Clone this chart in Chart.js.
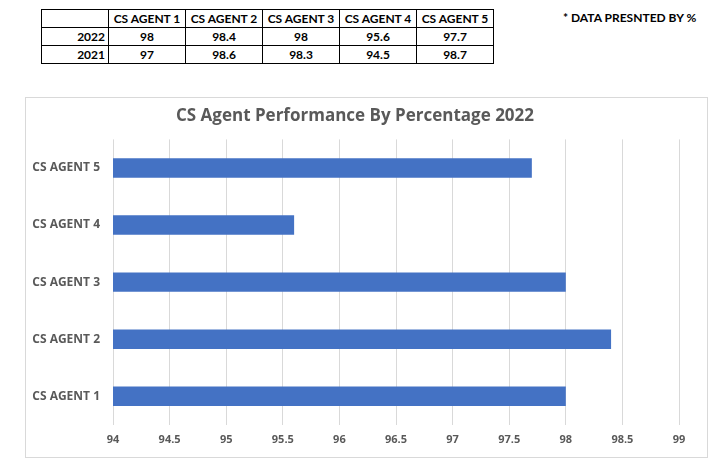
<!DOCTYPE html>
<html>
<head>
<meta charset="utf-8">
<script src="https://cdn.jsdelivr.net/npm/chart.js@4"></script>
<style>
  body { margin: 0; background: #fff; font-family: Lato, "Open Sans", sans-serif; }
  #dataTable {
    position: absolute; left: 41px; top: 9px;
    border-collapse: collapse; font-weight: bold; font-size: 12px; color: #000;
  }
  #dataTable td { border: 1px solid #000; height: 17px; padding: 0 3px; text-align: center; white-space: nowrap; }
  #dataTable td.year { text-align: right; width: 60px; }
  #dataTable td.agent { width: 70px; }
  #note { position: absolute; left: 563px; top: 10px; font-size: 12px; font-weight: bold; }
  #chartBox {
    position: absolute; left: 25px; top: 97px; width: 683px; height: 361px;
    border: 1px solid #d9d9d9; box-sizing: border-box;
  }
</style>
</head>
<body>
<table id="dataTable"></table>
<div id="note">* DATA PRESNTED BY %</div>
<div id="chartBox"><canvas id="barChart" width="681" height="359"></canvas></div>
<script>
const agents = ['CS AGENT 1', 'CS AGENT 2', 'CS AGENT 3', 'CS AGENT 4', 'CS AGENT 5'];
const years = ['2022', '2021'];
const values2022 = [98, 98.4, 98, 95.6, 97.7];
const values2021 = [97, 98.6, 98.3, 94.5, 98.7];

// table above the chart
const table = document.getElementById('dataTable');
let html = '<tr><td class="year"></td>' + agents.map(a => `<td class="agent">${a}</td>`).join('') + '</tr>';
[values2022, values2021].forEach((row, i) => {
  html += `<tr><td class="year">${years[i]}</td>` + row.map(v => `<td>${v}</td>`).join('') + '</tr>';
});
table.innerHTML = html;

function drawChart() {
  const ctx = document.getElementById('barChart').getContext('2d');
  new Chart(ctx, {
    type: 'bar',
    data: {
      labels: agents,
      datasets: [{
        label: '2022',
        data: values2022,
        backgroundColor: '#4472C4',
        barPercentage: 0.34,
        categoryPercentage: 1
      }]
    },
    options: {
      indexAxis: 'y',
      responsive: false,
      animation: false,
      layout: { padding: { left: 5, right: 28, bottom: 3 } },
      plugins: {
        legend: { display: false },
        tooltip: { enabled: false },
        title: {
          display: true,
          text: 'CS Agent Performance By Percentage 2022',
          color: '#595959',
          font: { family: 'Open Sans', size: 17, weight: 'bold' },
          padding: { top: 8, bottom: 13 }
        }
      },
      scales: {
        x: {
          min: 94,
          max: 99,
          ticks: {
            stepSize: 0.5, color: '#595959', padding: 8,
            font: { family: 'Open Sans', size: 11, weight: 'bold' },
            callback: v => String(v)
          },
          grid: { color: '#d9d9d9', drawTicks: false },
          border: { display: false }
        },
        y: {
          reverse: true,
          afterFit: scale => { scale.width = 82; },
          ticks: { color: '#595959', padding: 13, font: { family: 'Open Sans', size: 12, weight: 'bold' } },
          grid: { display: false, drawTicks: false },
          border: { display: false }
        }
      }
    }
  });
}

Promise.all([
  document.fonts.load('bold 11px "Open Sans"'),
  document.fonts.load('bold 17px "Open Sans"')
]).then(drawChart, drawChart);
</script>
</body>
</html>
